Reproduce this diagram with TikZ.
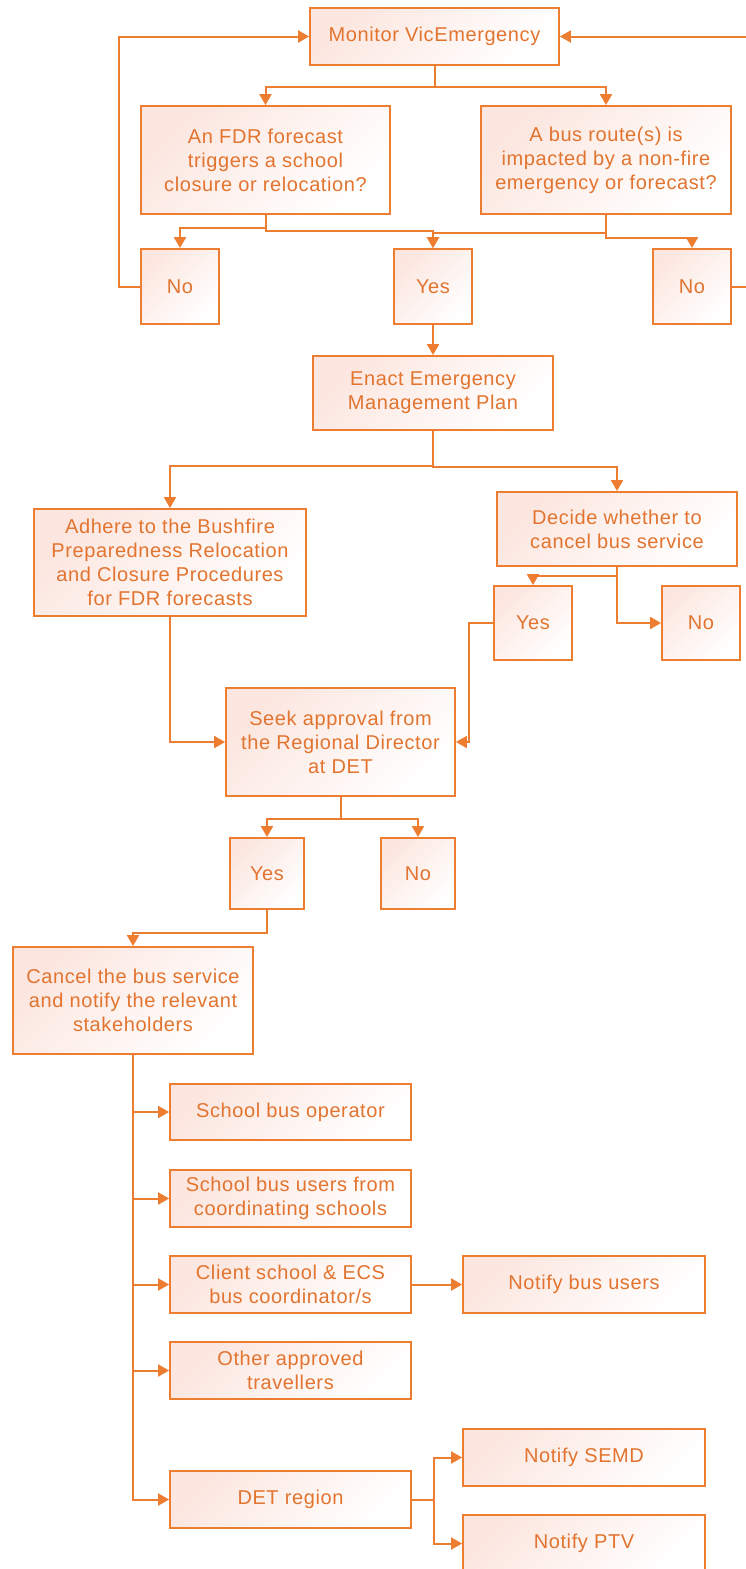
\documentclass[tikz,border=0pt]{standalone}
\usepackage{fontspec}
\setmainfont{Liberation Sans}[LetterSpace=3]
\usetikzlibrary{arrows.meta}
\definecolor{lineor}{HTML}{ED7D31}
\definecolor{textor}{HTML}{E2742F}
\definecolor{fillor}{HTML}{FCE6DF}
\tikzset{
  stepbox/.style={draw=lineor, line width=1.8pt, text=textor, align=center,
    inner sep=0pt, top color=fillor, bottom color=white, shading angle=45,
    font=\fontsize{20}{24}\selectfont},
  arr/.style={draw=lineor, line width=2pt, -{Triangle[length=11pt,width=12pt]}},
}
\begin{document}
\begin{tikzpicture}[x=1pt,y=-1pt]
\useasboundingbox (0,0) rectangle (746,1569);
\node[stepbox, minimum width=249pt, minimum height=57pt] (mon) at (434.5,36.5) {Monitor VicEmergency};
\node[stepbox, minimum width=249pt, minimum height=108pt] (fdr) at (265.5,160) {An FDR forecast\\triggers a school\\closure or relocation?};
\node[stepbox, minimum width=250pt, minimum height=108pt] (bus) at (606,160) {A bus route(s) is\\impacted by a non-fire\\emergency or forecast?};
\node[stepbox, minimum width=78pt, minimum height=75pt] (noL) at (180,286.5) {No};
\node[stepbox, minimum width=78pt, minimum height=75pt] (yes1) at (433,286.5) {Yes};
\node[stepbox, minimum width=78pt, minimum height=75pt] (noR) at (692,286.5) {No};
\node[stepbox, minimum width=240pt, minimum height=74pt] (enact) at (433,393) {Enact Emergency\\Management Plan};
\node[stepbox, minimum width=272pt, minimum height=107pt] (adhere) at (170,562.5) {Adhere to the Bushfire\\Preparedness Relocation\\and Closure Procedures\\for FDR forecasts};
\node[stepbox, minimum width=240pt, minimum height=74pt] (decide) at (617,529) {Decide whether to\\cancel bus service};
\node[stepbox, minimum width=78pt, minimum height=74pt] (yes2) at (533,623) {Yes};
\node[stepbox, minimum width=78pt, minimum height=74pt] (no2) at (701,623) {No};
\node[stepbox, minimum width=229pt, minimum height=108pt] (seek) at (340.5,742) {Seek approval from\\the Regional Director\\at DET};
\node[stepbox, minimum width=74pt, minimum height=71pt] (yes3) at (267,873.5) {Yes};
\node[stepbox, minimum width=74pt, minimum height=71pt] (no3) at (418,873.5) {No};
\node[stepbox, minimum width=240pt, minimum height=107pt] (cancel) at (133,1000.5) {Cancel the bus service\\and notify the relevant\\stakeholders};
\node[stepbox, minimum width=241pt, minimum height=56pt] (op) at (290.5,1112) {School bus operator};
\node[stepbox, minimum width=241pt, minimum height=57pt] (users) at (290.5,1198.5) {School bus users from\\coordinating schools};
\node[stepbox, minimum width=241pt, minimum height=57pt] (client) at (290.5,1284.5) {Client school \& ECS\\bus coordinator/s};
\node[stepbox, minimum width=241pt, minimum height=57pt] (other) at (290.5,1370.5) {Other approved\\travellers};
\node[stepbox, minimum width=241pt, minimum height=57pt] (det) at (290.5,1499.5) {DET region};
\node[stepbox, minimum width=242pt, minimum height=57pt] (nbu) at (584,1284.5) {Notify bus users};
\node[stepbox, minimum width=242pt, minimum height=57pt] (semd) at (584,1457.5) {Notify SEMD};
\node[stepbox, minimum width=242pt, minimum height=57pt] (ptv) at (584,1543.5) {Notify PTV};
\coordinate (ledge) at (119,36.5);
\coordinate (redge) at (754,36.5);
% connectors
\draw[arr] (mon.south) -- ++(0,21) -| (fdr.north);
\draw[arr] (mon.south) -- ++(0,21) -| (bus.north);
\draw[arr] (fdr.south) -- ++(0,13) -| (noL.north);
\draw[arr] (fdr.south) -- ++(0,16) -| (yes1.north);
\draw[arr] (bus.south) -- ++(0,18) -| (yes1.north);
\draw[arr] (bus.south) -- ++(0,23) -| (noR.north);
\draw[arr] (noL.west) -| (ledge) -- (mon.west);
\draw[arr] (noR.east) -| (redge) -- (mon.east);
\draw[arr] (yes1.south) -- (enact.north);
\draw[arr] (enact.south) -- ++(0,35) -| (adhere.north);
\draw[arr] (enact.south) -- ++(0,36) -| (decide.north);
\draw[arr] (decide.south) -- ++(0,9) -| (yes2.north);
\draw[arr] (decide.south) |- (no2.west);
\draw[arr] (yes2.west) -- ++(-24,0) |- (seek.east);
\draw[arr] (adhere.south) |- (seek.west);
\draw[arr] (seek.south) -- ++(0,22) -| (yes3.north);
\draw[arr] (seek.south) -- ++(0,22) -| (no3.north);
\draw[arr] (yes3.south) -- ++(0,23) -| (cancel.north);
\draw[arr] (cancel.south) |- (op.west);
\draw[arr] (cancel.south) |- (users.west);
\draw[arr] (cancel.south) |- (client.west);
\draw[arr] (cancel.south) |- (other.west);
\draw[arr] (cancel.south) |- (det.west);
\draw[arr] (client.east) -- (nbu.west);
\draw[arr] (det.east) -- ++(22,0) |- (semd.west);
\draw[arr] (det.east) -- ++(22,0) |- (ptv.west);
\end{tikzpicture}
\end{document}
